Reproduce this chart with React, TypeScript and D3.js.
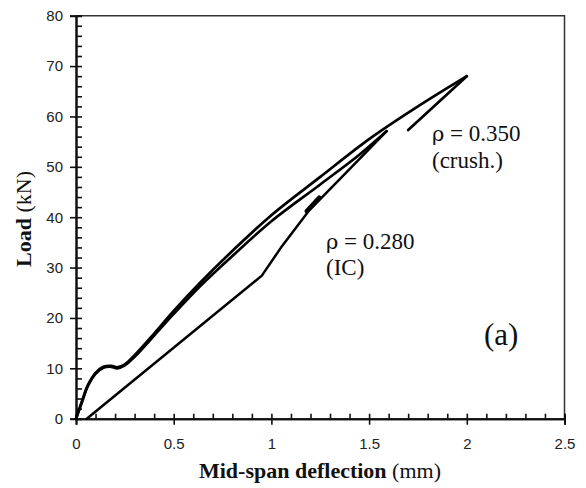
import React, { useEffect, useRef } from 'react';
import * as d3 from 'd3';

// rho = 0.350 (crushing) loading branch
const crushX = [0, 0.03, 0.06, 0.1, 0.14, 0.18, 0.21, 0.25, 0.3, 0.4, 0.5, 0.635, 0.8, 1.0, 1.25, 1.5, 1.75, 2.0];
const crushY = [0, 3.4, 6.6, 9.1, 10.3, 10.5, 10.2, 10.8, 12.6, 16.9, 21.4, 27.0, 33.3, 40.4, 48.0, 55.5, 62.0, 68.0];
// rho = 0.350 drop after peak
const crushDropX = [2.0, 1.7];
const crushDropY = [68.0, 57.3];

// rho = 0.280 (IC debonding) loading branch
const icX = [0, 0.03, 0.06, 0.1, 0.14, 0.18, 0.21, 0.25, 0.3, 0.4, 0.5, 0.635, 0.8, 1.0, 1.25, 1.45, 1.59];
const icY = [0, 3.2, 6.4, 8.9, 10.1, 10.3, 10.0, 10.6, 12.3, 16.5, 20.8, 26.3, 32.3, 39.2, 46.5, 52.4, 57.1];
// rho = 0.280 unloading branch
const icDropX = [1.59, 1.19, 1.055, 0.951, 0.055];
const icDropY = [57.1, 41.2, 34.3, 28.4, 0];
// small double-line notch on the unloading branch
const notchX = [1.18, 1.245];
const notchY = [41.2, 43.9];

const xTicks = [0, 0.5, 1, 1.5, 2, 2.5];
const yTicks = [0, 10, 20, 30, 40, 50, 60, 70, 80];

const zip = (xs: number[], ys: number[]) => xs.map((v, i) => [v, ys[i]] as [number, number]);

const App = () => {
  const svgRef = useRef<SVGSVGElement>(null);

  useEffect(() => {
    const W = 586;
    const H = 488;
    const left = 76, right = 564.5, top = 15.7, bottom = 418.7;

    const svg = d3.select(svgRef.current);
    svg.selectAll('*').remove();

    const x = d3.scaleLinear().domain([0, 2.5]).range([left, right]);
    const y = d3.scaleLinear().domain([0, 80]).range([bottom, top]);

    svg.append('rect').attr('width', W).attr('height', H).attr('fill', '#fff');

    // frame (top & right)
    svg.append('path')
      .attr('d', `M${left},${top}H${right}V${bottom}`)
      .attr('fill', 'none').attr('stroke', '#333').attr('stroke-width', 1.5);

    const tickFont = '"Liberation Sans", Arial, sans-serif';

    // y axis: outward major ticks with labels
    const yMajor = svg.append('g').attr('transform', `translate(${left},0)`)
      .call(d3.axisLeft(y).tickValues(yTicks).tickSize(6).tickPadding(7).tickFormat(d3.format('d')));
    // y axis: inward minor + major ticks
    svg.append('g').attr('transform', `translate(${left},0)`)
      .call(d3.axisRight(y).tickValues(d3.range(0, 81, 2)).tickSize(6).tickFormat(() => ''));

    // x axis
    const xMajor = svg.append('g').attr('transform', `translate(0,${bottom})`)
      .call(d3.axisBottom(x).tickValues(xTicks).tickSize(6).tickPadding(14).tickFormat(d3.format('')));
    svg.append('g').attr('transform', `translate(0,${bottom})`)
      .call(d3.axisTop(x).tickValues(d3.range(0, 26).map((i) => i / 10)).tickSize(5).tickFormat(() => ''));

    svg.selectAll('.domain').attr('stroke', '#111').attr('stroke-width', 2);
    svg.selectAll('.tick line').attr('stroke', '#111').attr('stroke-width', 1.6);
    [yMajor, xMajor].forEach((g) =>
      g.selectAll('text').attr('font-family', tickFont).attr('font-size', 15).attr('fill', '#222'));

    // curves
    const smooth = d3.line<[number, number]>()
      .x((d) => x(d[0])).y((d) => y(d[1]))
      .curve(d3.curveCatmullRom.alpha(0.5));
    const straight = d3.line<[number, number]>()
      .x((d) => x(d[0])).y((d) => y(d[1]));

    const curves: [string, number][] = [
      [smooth(zip(icX, icY)) as string, 2.7],
      [smooth(zip(crushX, crushY)) as string, 2.7],
      [straight(zip(crushDropX, crushDropY)) as string, 2.7],
      [straight(zip(icDropX, icDropY)) as string, 2.5],
      [straight(zip(notchX, notchY)) as string, 4.2],
    ];
    curves.forEach(([d, w]) => {
      svg.append('path').attr('d', d).attr('fill', 'none')
        .attr('stroke', '#000').attr('stroke-width', w)
        .attr('stroke-linejoin', 'round').attr('stroke-linecap', 'round');
    });

    // annotations
    const serif = '"Liberation Serif", "Times New Roman", serif';
    const greek = '"DejaVu Serif", "Liberation Serif", serif';
    const rhoNotes: [string, number, number][] = [
      [' = 0.350', 432, 141],
      [' = 0.280', 326, 249],
    ];
    rhoNotes.forEach(([t, tx, ty]) => {
      const txt = svg.append('text').attr('x', tx).attr('y', ty)
        .attr('font-size', 23).attr('fill', '#111');
      txt.append('tspan').attr('font-family', greek).attr('font-size', 21).text('ρ');
      txt.append('tspan').attr('font-family', serif).text(t);
    });
    const notes: [string, number, number, number][] = [
      ['(crush.)', 432, 168, 23],
      ['(IC)', 326, 275, 23],
      ['(a)', 484, 345, 31],
    ];
    notes.forEach(([t, tx, ty, fs]) => {
      svg.append('text').attr('x', tx).attr('y', ty)
        .attr('font-family', serif).attr('font-size', fs).attr('fill', '#111').text(t);
    });

    // axis titles
    const xt = svg.append('text').attr('x', 320).attr('y', 478)
      .attr('text-anchor', 'middle').attr('font-family', serif).attr('font-size', 22).attr('fill', '#111');
    xt.append('tspan').attr('font-weight', 'bold').text('Mid-span deflection');
    xt.append('tspan').text(' (mm)');

    const yt = svg.append('text').attr('transform', 'translate(30.5,219) rotate(-90)')
      .attr('text-anchor', 'middle').attr('font-family', serif).attr('font-size', 22).attr('fill', '#111');
    yt.append('tspan').attr('font-weight', 'bold').text('Load');
    yt.append('tspan').text(' (kN)');
  }, []);

  return (
    <svg ref={svgRef} width={586} height={488}
      style={{ position: 'absolute', left: 0, top: 0, display: 'block' }} />
  );
};

export default App;
